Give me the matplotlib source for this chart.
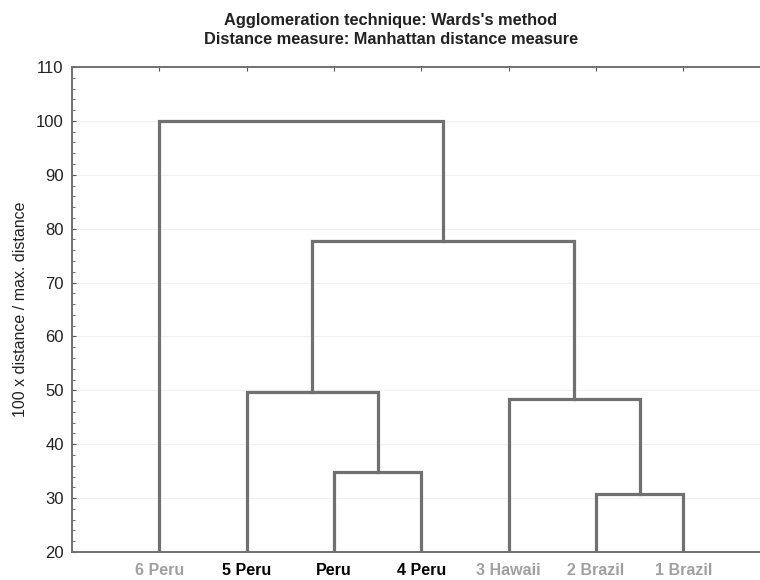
import matplotlib
matplotlib.use("Agg")
import matplotlib.pyplot as plt
import numpy as np

plt.rcParams['font.family'] = ['Liberation Sans', 'DejaVu Sans']

# leaves, left to right
leaf_names = ["6 Peru", "5 Peru", "Peru", "4 Peru", "3 Hawaii", "2 Brazil", "1 Brazil"]
leaf_colors = ["#a0a0a0", "black", "black", "black", "#a0a0a0", "#a0a0a0", "#a0a0a0"]

# merges: (node a, node b, linkage distance); nodes 0..6 are leaves, 7.. are merges
merge_a = [2, 5, 1, 4, 9, 0]
merge_b = [3, 6, 7, 8, 10, 11]
merge_h = [34.8, 30.7, 49.7, 48.4, 77.8, 100.0]

W, H = 760, 580
fig = plt.figure(figsize=(W / 100, H / 100), dpi=100)
ax = fig.add_axes([72 / W, (H - 552) / H, 698.6 / W, 485 / H])

line_col = "#707070"
ymin = 20

# position (x, height) of every node
xs = list(np.arange(1, len(leaf_names) + 1, dtype=float))
hs = [ymin] * len(leaf_names)
for a, b, h in zip(merge_a, merge_b, merge_h):
    ax.plot([xs[a], xs[a], xs[b], xs[b]], [hs[a], h, h, hs[b]],
            color=line_col, lw=2.3, solid_joinstyle="miter", zorder=3)
    xs.append((xs[a] + xs[b]) / 2)
    hs.append(h)

ax.set_xlim(0, len(leaf_names) + 1)
ax.set_ylim(20, 110)
ax.set_yticks(np.arange(20, 111, 10))
ax.set_yticks(np.arange(20, 111, 2), minor=True)
ax.grid(axis="y", which="major", color="#f0f0f0", lw=0.8, zorder=0)

ax.set_xticks(np.arange(1, len(leaf_names) + 1))
ax.set_xticklabels(leaf_names, fontsize=11.5, fontweight="bold")
for lbl, c in zip(ax.get_xticklabels(), leaf_colors):
    lbl.set_color(c)
ax.tick_params(axis="x", bottom=False, top=True, direction="in", length=3,
               color="#555555", pad=8)
ax.tick_params(axis="y", which="major", direction="in", length=3, color="#555555",
               labelsize=12, pad=6)
ax.tick_params(axis="y", which="minor", direction="in", length=2, color="#555555")
ax.tick_params(axis="y", labelcolor="#222222")

for s in ["left", "bottom", "top"]:
    ax.spines[s].set_color("#707070")
    ax.spines[s].set_linewidth(1.4)
ax.spines["right"].set_visible(False)

ax.set_ylabel("100 x distance / max. distance", fontsize=11.5, color="#222222", labelpad=6)

fig.text(391 / W, 1 - 20 / H, "Agglomeration technique: Wards's method",
         ha="center", va="center", fontsize=11.8, fontweight="bold", color="#222222")
fig.text(391 / W, 1 - 40 / H, "Distance measure: Manhattan distance measure",
         ha="center", va="center", fontsize=11.8, fontweight="bold", color="#222222")

fig.savefig("out.png", dpi=100)
